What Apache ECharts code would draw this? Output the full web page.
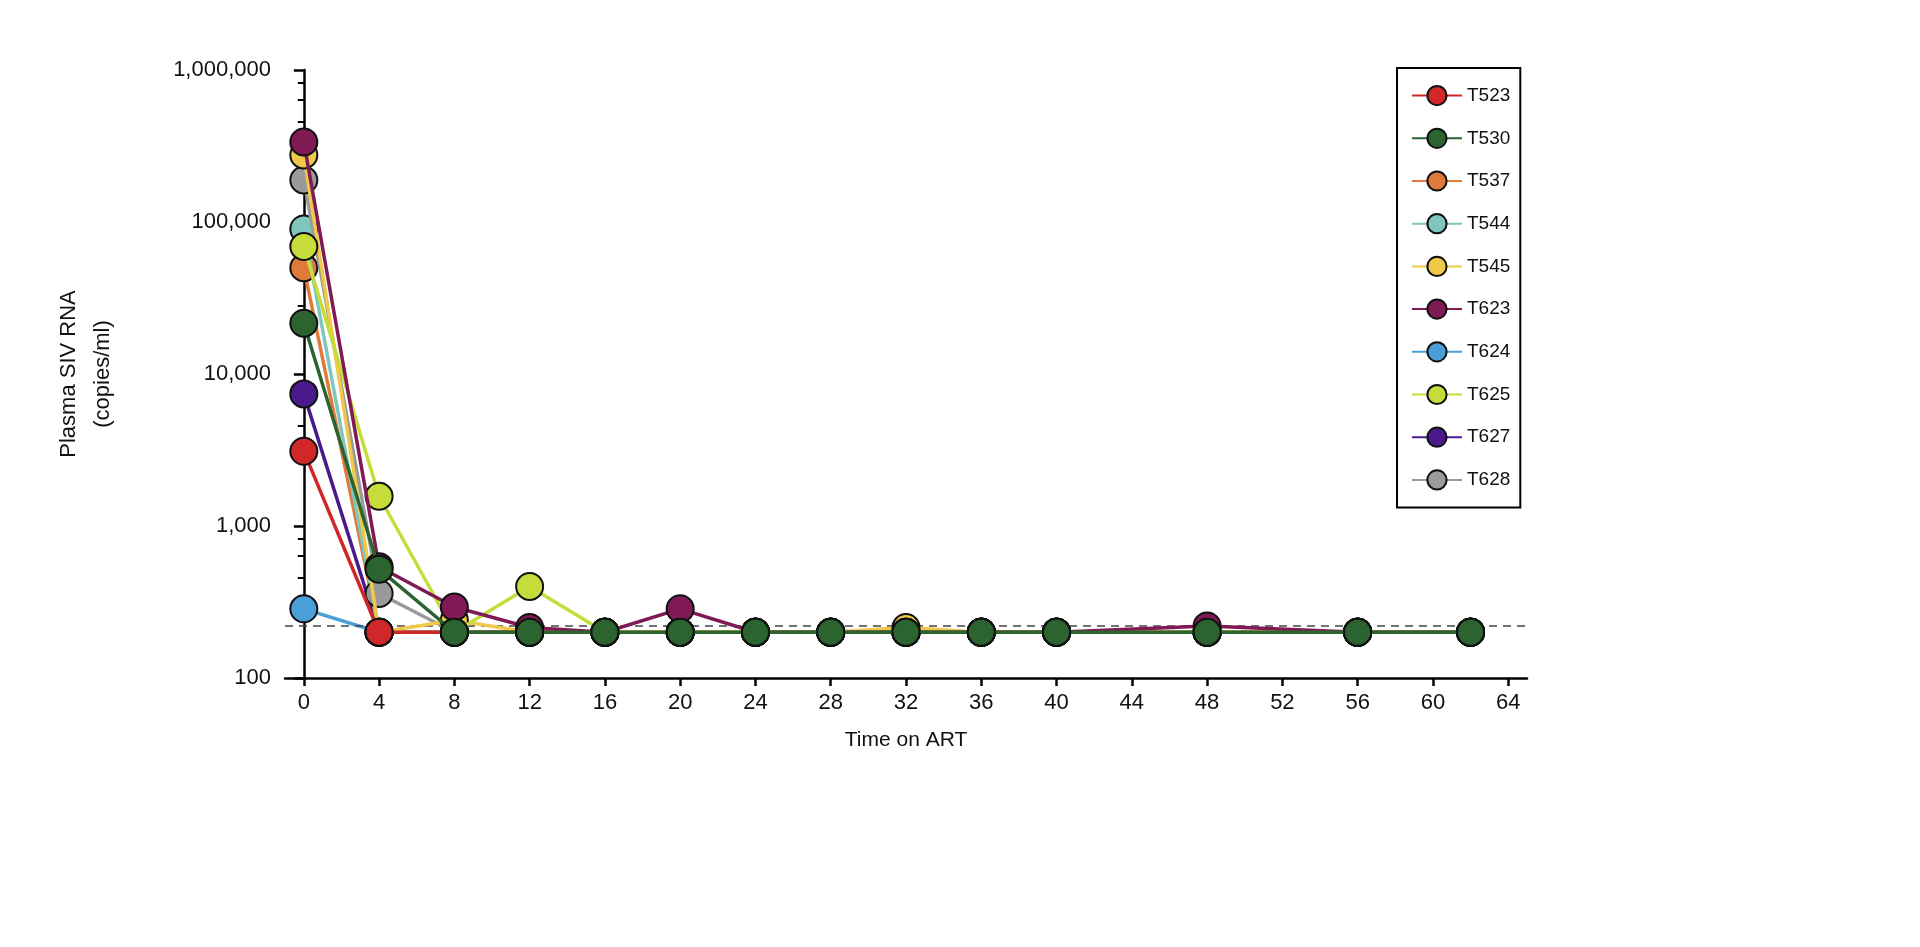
<!DOCTYPE html><html><head><meta charset="utf-8"><script src="https://cdn.jsdelivr.net/npm/echarts@6/dist/echarts.min.js"></script>
<style>html,body{margin:0;background:#fff}#c{width:1920px;height:947px}</style></head><body><div id="c"></div><script>
const weeks=[0,4,8,12,16,20,24,28,32,36,40,48,56,62];
const names=['T523','T530','T537','T544','T545','T623','T624','T625','T627','T628'];
const colors=['#d02828','#2c6430','#e07a3c','#7fc6bd','#f0c94a','#7f1a55','#4a9fd8','#c6dc3a','#4a1a8c','#9a9a9a'];
const T523=[3100,200,200,200,200,200,200,200,200,200,200,200,200,200];
const T530=[21600,520,200,200,200,200,200,200,200,200,200,200,200,200];
const T537=[50000,200,200,200,200,200,200,200,200,200,200,200,200,200];
const T544=[90000,200,200,200,200,200,200,200,200,200,200,200,200,200];
const T545=[276000,200,240,200,200,200,200,200,215,200,200,200,200,200];
const T623=[336000,540,293,215,200,285,200,200,200,200,200,220,200,200];
const T624=[285,200,200,200,200,200,200,200,200,200,200,200,200,200];
const T625=[69000,1570,200,400,200,200,200,200,200,200,200,200,200,200];
const T627=[7400,200,200,200,200,200,200,200,200,200,200,200,200,200];
const T628=[189000,360,200,200,200,200,200,200,200,200,200,200,200,200];
const vals=[T523,T530,T537,T544,T545,T623,T624,T625,T627,T628];
const LOD=220;
const xTicks=[0,4,8,12,16,20,24,28,32,36,40,44,48,52,56,60,64];
const order=[6,8,2,3,9,4,0,7,5,1];
const series=order.map((i,k)=>({name:names[i],type:'line',z:2+k,data:weeks.map((w,j)=>[w,vals[i][j]]),
 symbol:'circle',symbolSize:27,lineStyle:{width:3.5,color:colors[i]},
 itemStyle:{color:colors[i],borderColor:'#111',borderWidth:2},emphasis:{disabled:true},
 markLine:k===0?{silent:true,symbol:'none',label:{show:false},lineStyle:{type:[8,6],color:'#444',width:1.5},data:[{yAxis:LOD}]}:undefined}));
const ch=echarts.init(document.getElementById('c'));
ch.setOption({animation:false,
 grid:{left:285,right:393,top:70,bottom:269},
 legend:{data:names,orient:'vertical',left:1397,top:68,width:130,height:462,
  padding:[17,10,17,14],itemGap:21.5,itemWidth:50,itemHeight:24,borderColor:'#000',borderWidth:2,
  textStyle:{fontSize:19,color:'#111',fontFamily:'Liberation Sans, Arial'}},
 xAxis:{type:'value',min:-1,max:65,name:'Time on ART',nameLocation:'middle',nameGap:52,
  nameTextStyle:{fontSize:21,color:'#111',fontFamily:'Liberation Sans, Arial'},
  axisLine:{lineStyle:{color:'#000',width:2.5}},splitLine:{show:false},
  axisTick:{customValues:xTicks,length:8,lineStyle:{width:2.5,color:'#000'}},
  axisLabel:{customValues:xTicks,fontSize:22,color:'#111',margin:14,fontFamily:'Liberation Sans, Arial'}},
 yAxis:{type:'log',logBase:10,min:100,max:1000000,name:'Plasma SIV RNA\n(copies/ml)',nameLocation:'middle',nameGap:165,
  nameTextStyle:{fontSize:22,color:'#111',lineHeight:34,fontFamily:'Liberation Sans, Arial'},
  axisLine:{show:true,lineStyle:{color:'#000',width:2.5}},splitLine:{show:false},
  axisTick:{length:10,lineStyle:{width:2.5,color:'#000'}},
  minorTick:{show:true,splitNumber:5,length:6,lineStyle:{width:2,color:'#000'}},
  axisLabel:{fontSize:22,color:'#111',margin:14,fontFamily:'Liberation Sans, Arial',formatter:v=>Math.round(v).toLocaleString('en-US')}},
 series});
</script></body></html>
